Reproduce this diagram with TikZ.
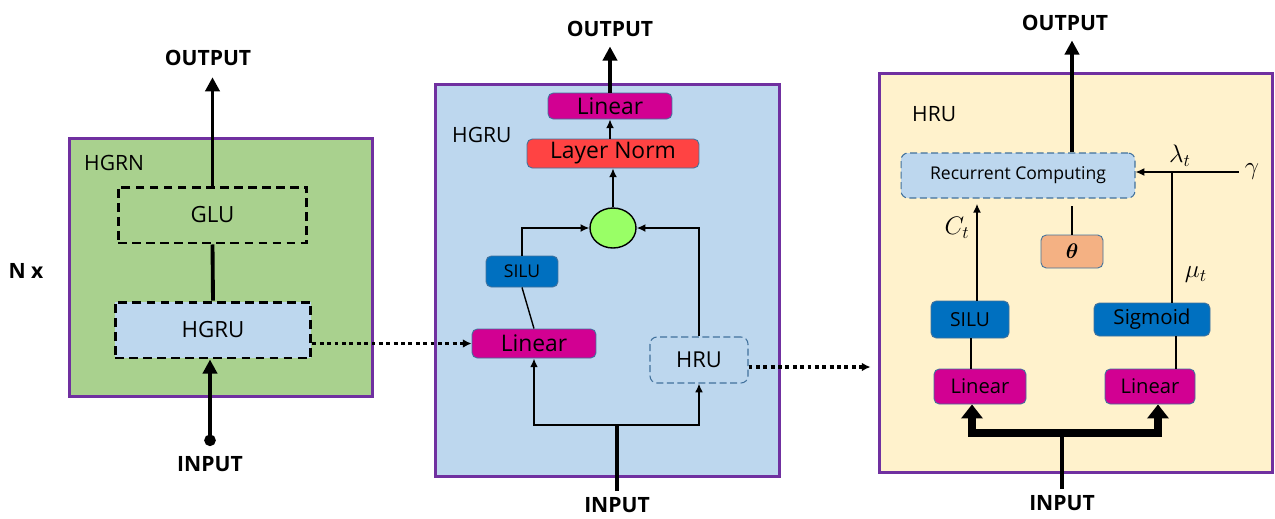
\documentclass[tikz,border=0pt]{standalone}
\usepackage{fontspec}
\setmainfont{Open Sans}
\usepackage{amsmath,amssymb}
\usepackage{xcolor}
\usepackage{tikz}
\usetikzlibrary{positioning, arrows.meta, shapes.geometric}

\definecolor{panelline}{HTML}{7030A0}
\definecolor{hgrngreen}{HTML}{A9D18E}
\definecolor{hgrublue}{HTML}{BDD7EE}
\definecolor{hruyellow}{HTML}{FFF2CC}
\definecolor{linmag}{HTML}{D20092}
\definecolor{normred}{HTML}{FF4343}
\definecolor{actblue}{HTML}{0070C0}
\definecolor{mixgreen}{HTML}{99FF66}
\definecolor{thetaorange}{HTML}{F4B183}
\definecolor{edgeblue}{HTML}{41719C}

\begin{document}
\begin{tikzpicture}[x=0.02cm, y=-0.02cm,
        panel/.style={draw=panelline, fill=#1, line width=1.7pt, inner sep=0pt},
        card/.style={rounded corners=3pt, draw=edgeblue, fill=#1, line width=0.5pt, inner sep=0pt},
        dashcard/.style={rounded corners=4pt, dash pattern=on 4pt off 2pt, draw=edgeblue, fill=#1, line width=0.6pt, inner sep=0pt},
        dashbox/.style={dash pattern=on 5pt off 3pt, draw=black, fill=#1, line width=1.7pt, inner sep=0pt},
        lbl/.style={font=\fontsize{12}{14}\selectfont},
        io/.style={font=\bfseries\fontsize{12}{14}\selectfont},
        fs/.style={font=\fontsize{#1}{#1}\selectfont},
        wire/.style={line width=0.8pt},
        bold wire/.style={line width=2.2pt},
        arr/.style={-{Latex[length=5pt,width=4.5pt]}},
        bigarr/.style={-{Triangle[length=8pt,width=8pt]}}]
  \useasboundingbox (0,0) rectangle (1275,518);

  % HGRN
  \node[panel=hgrngreen, minimum width=6.08cm, minimum height=5.18cm] (pl) at (221,267.5) {};
  \node[lbl, anchor=west] (tl) at (78,163) {HGRN};
  \node[dashbox=hgrngreen, fs=12.7, minimum width=3.78cm, minimum height=1.12cm] (glu) at (212.5,215) {GLU};
  \node[dashbox=hgrublue, fs=12.7, minimum width=3.92cm, minimum height=1.12cm] (hg) at (213,330) {HGRU};
  \node[io] (ol) at (208,58) {OUTPUT};
  \node[io] (il) at (210,464) {INPUT};
  \node[io] (nx) at (26,271) {N x};
  \coordinate (dl) at (210,446);
  \draw[bold wire, bigarr, shorten >=3pt] (glu.north) -- (ol.south -| glu.north);
  \draw[bold wire] (glu.south) -- (hg.north);
  \draw[bold wire, {Circle[length=6.5pt]}-{Triangle[length=8pt,width=8pt]}] (dl) -- (dl |- hg.south);

  % HGRU
  \node[panel=hgrublue, minimum width=6.9cm, minimum height=7.86cm] (pm) at (607.5,280.5) {};
  \node[lbl, anchor=west] (tm) at (446,135) {HGRU};
  \node[card=linmag, fs=13, minimum width=2.48cm, minimum height=0.52cm] (lt) at (610,106) {Linear};
  \node[card=normred, fs=13, minimum width=3.44cm, minimum height=0.58cm] (ln) at (613,153.5) {Layer Norm};
  \node[ellipse, draw=black, fill=mixgreen, line width=0.8pt, minimum width=0.92cm, minimum height=0.8cm, inner sep=0pt] (mx) at (613,228) {};
  \node[card=actblue, fs=10, minimum width=1.44cm, minimum height=0.62cm] (sm) at (522,271.5) {SILU};
  \node[card=linmag, fs=13, minimum width=2.48cm, minimum height=0.58cm] (lm) at (534,343.5) {Linear};
  \node[dashcard=hgrublue, fs=12.5, minimum width=1.96cm, minimum height=0.92cm] (hru) at (699,360) {HRU};
  \node[io] (om) at (610,29) {OUTPUT};
  \node[io] (im) at (617,505) {INPUT};
  \coordinate (jm) at (617,425);
  \draw[bold wire] (im.north) -- (jm);
  \draw[line width=1.2pt, arr] (jm) -| (lm.south);
  \draw[line width=1.2pt, arr] (jm) -| (hru.south);
  \draw[wire] (sm.south) -- (lm.north);
  \draw[wire, arr] (sm.north) |- (mx.west);
  \draw[wire, arr] (hru.north) |- (mx.east);
  \draw[wire, arr] (mx.north) -- (ln.south -| mx.north);
  \draw[wire, arr] (ln.north -| lt.south) -- (lt.south);
  \draw[line width=2.8pt, bigarr, shorten >=2pt] (lt.north) -- (om.south -| lt.north);
  \draw[bold wire, dotted, -{Latex[length=5pt,width=5pt]}] (hg.east |- lm.west) -- (lm.west);

  % HRU
  \node[panel=hruyellow, minimum width=7.88cm, minimum height=8cm] (pr) at (1076,273) {};
  \node[lbl, anchor=west] (tr) at (906,114) {HRU};
  \node[dashcard=hgrublue, fs=10, minimum width=4.68cm, minimum height=0.9cm] (rc) at (1018,175.5) {Recurrent Computing};
  \node[card=thetaorange, fs=13, minimum width=1.24cm, minimum height=0.66cm] (th) at (1072,251.5) {$\boldsymbol{\theta}$};
  \node[card=actblue, fs=11, minimum width=1.56cm, minimum height=0.74cm] (sr) at (970,319.5) {SILU};
  \node[card=actblue, fs=11.7, minimum width=2.32cm, minimum height=0.66cm] (sg) at (1152,319.5) {Sigmoid};
  \node[card=linmag, fs=11.5, minimum width=1.84cm, minimum height=0.7cm] (l1) at (980,386.5) {Linear};
  \node[card=linmag, fs=11.5, minimum width=1.8cm, minimum height=0.7cm] (l2) at (1150,386.5) {Linear};
  \node[io] (or) at (1065,23) {OUTPUT};
  \node[io] (ir) at (1062,503) {INPUT};
  \node[fs=14] (gm) at (1252,172) {$\gamma$};
  \node[fs=14] (lt1) at (1180,156) {$\lambda_t$};
  \node[fs=14] (mu) at (1196,275) {$\mu_t$};
  \node[fs=14] (ct) at (957,228) {$C_t$};
  \coordinate (jr) at (1062,433);
  \coordinate (sk) at ([xshift=0.4cm]sg.north);
  \draw[bold wire] (ir.north) -- (jr);
  \draw[line width=4.5pt, -{Triangle[length=8pt,width=12pt]}] (jr) -| ([xshift=-0.16cm]l1.south);
  \draw[line width=4.5pt, -{Triangle[length=8pt,width=12pt]}] (jr) -| ([xshift=0.16cm]l2.south);
  \draw[wire] ([xshift=0.02cm]sr.south) -- ([xshift=0.02cm]sr.south |- l1.north);
  \draw[wire] ([xshift=0.48cm]sg.south) -- ([xshift=0.48cm]sg.south |- l2.north);
  \draw[wire, arr, shorten >=3pt] ([xshift=0.14cm]sr.north) -- ([xshift=0.14cm]sr.north |- rc.south);
  \draw[wire] (sk) -- (sk |- gm.west);
  \draw[wire, arr] (gm.west) -- (gm.west -| rc.east);
  \draw[wire, shorten >=4pt] (th.north) -- (th.north |- rc.south);
  \draw[line width=2.8pt, bigarr, shorten >=2pt] (rc.north -| th.north) -- (or.south -| th.north);
  \draw[bold wire, dotted, -{Latex[length=5pt,width=5pt]}] (hru.east |- 0,367) -- ([xshift=-0.14cm]pr.west |- 0,367);
\end{tikzpicture}
\end{document}
